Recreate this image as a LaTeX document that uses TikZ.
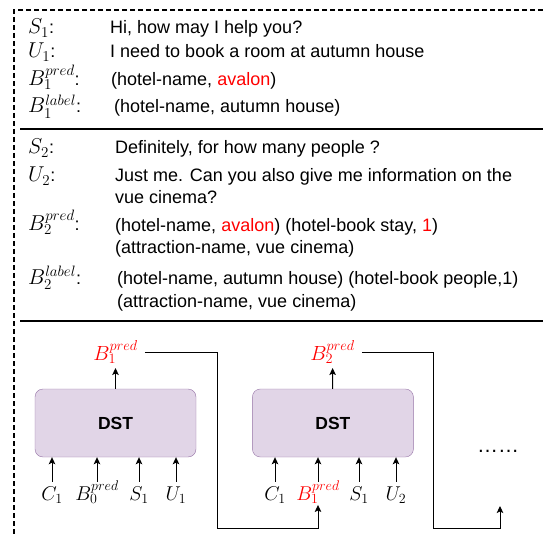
\documentclass[tikz,border=0pt]{standalone}
\usepackage{fix-cm}
\usepackage{fontspec}
\setmainfont{Liberation Sans}
\usepackage{tikz}
\usetikzlibrary{arrows.meta, positioning}
\definecolor{dstfill}{HTML}{E1D5E7}
\definecolor{dstdraw}{HTML}{9673A6}
\newcommand{\tlbl}[1]{$#1${\fontsize{18}{22}\selectfont:}}
\tikzstyle{turn} = [anchor=base west, inner sep=0pt, font=\fontsize{21.5}{25}\selectfont]
\tikzstyle{utter} = [anchor=base west, inner sep=0pt, align=left, font=\fontsize{18}{22.5}\selectfont]
\tikzstyle{dst} = [rectangle, rounded corners=8pt, minimum width=161pt, minimum height=68pt, draw=dstdraw, fill=dstfill, font=\fontsize{17.5}{21}\selectfont\bfseries]
\tikzstyle{inp} = [anchor=base, inner sep=1pt, text height=17pt, font=\fontsize{20}{24}\selectfont]
\tikzstyle{outp} = [inner sep=4pt, text=red, font=\fontsize{20.5}{24}\selectfont]
\tikzstyle{arrow} = [line width=1pt,-{Stealth[length=7pt,width=6.5pt,inset=1.5pt]}]
\tikzstyle{frame} = [line width=1.3pt, dash pattern=on 5pt off 3pt]
\tikzstyle{rule} = [line width=2pt]

\begin{document}
\begin{tikzpicture}[x=1pt, y=-1pt]
\useasboundingbox (0,0) rectangle (543,537);

\draw [frame] (543,10) -- (14,10) -- (14,537);

% turn 1
\node (s1) [turn] at (28,34) {\tlbl{S_1}};
\node (s1t) [utter] at (110,34) {Hi, how may I help you?};
\node (u1) [turn] at (28,58) {\tlbl{U_1}};
\node (u1t) [utter] at (110,58) {I need to book a room at autumn house};
\node (b1p) [turn] at (28,86) {\tlbl{B_1^{pred}}};
\node (b1pt) [utter] at (111,86) {(hotel-name, {\color{red}avalon})};
\node (b1l) [turn] at (28,113) {\tlbl{B_1^{label}}};
\node (b1lt) [utter] at (114,113) {(hotel-name, autumn house)};

\draw [rule] (20,129) -- (543,129);

% turn 2 (multi-line texts sit on their last baseline)
\node (s2) [turn] at (28,154) {\tlbl{S_2}};
\node (s2t) [utter] at (115,154) {Definitely, for how many people ?};
\node (u2) [turn] at (28,182) {\tlbl{U_2}};
\node (u2t) [utter] at (115,204) {Just me. Can you also give me information on the\\vue cinema?};
\node (b2p) [turn] at (28,231) {\tlbl{B_2^{pred}}};
\node (b2pt) [utter] at (115,254) {(hotel-name, {\color{red}avalon}) (hotel-book stay, {\color{red}1})\\(attraction-name, vue cinema)};
\node (b2l) [turn] at (28,284) {\tlbl{B_2^{label}}};
\node (b2lt) [utter] at (117,307) {(hotel-name, autumn house) (hotel-book people,1)\\(attraction-name, vue cinema)};

\draw [rule] (20,321) -- (543,321);

% tracker unrolled
\node (dst1) [dst] at (115.5,423) {DST};
\node (dst2) [dst, right=56pt of dst1] {DST};

\node (b1out) [outp] at (115.5,352) {$B_1^{pred}$};
\node (b2out) [outp] at (332.5,352) {$B_2^{pred}$};
\draw [arrow] (dst1) -- (b1out);
\draw [arrow] (dst2) -- (b2out);

\node (c1a) [inp] at (52,500) {$C_1$};
\node (b0a) [inp] at (97,500) {$B_0^{pred}$};
\node (s1a) [inp] at (139,500) {$S_1$};
\node (u1a) [inp] at (176,500) {$U_1$};
\node (c1b) [inp] at (275,500) {$C_1$};
\node (b1b) [inp, text=red] at (318,500) {$B_1^{pred}$};
\node (s1b) [inp] at (359,500) {$S_1$};
\node (u2b) [inp] at (396,500) {$U_2$};
\foreach \n in {c1a,b0a,s1a,u1a}
  \draw [arrow] (\n) -- (\n |- dst1.south);
\foreach \n in {c1b,b1b,s1b,u2b}
  \draw [arrow] (\n) -- (\n |- dst2.south);

\node (more) at (498,451) {\fontsize{21}{25}\selectfont\ldots\ldots};

\coordinate (low1) at (217,528);
\coordinate (low2) at (433,528);
\coordinate (nxt) at (500,506);
\draw [arrow] ([xshift=3pt]b1out.east) -| (low1) -| (b1b.south);
\draw [arrow] ([xshift=3pt]b2out.east) -| (low2) -| (nxt);

\end{tikzpicture}
\end{document}
